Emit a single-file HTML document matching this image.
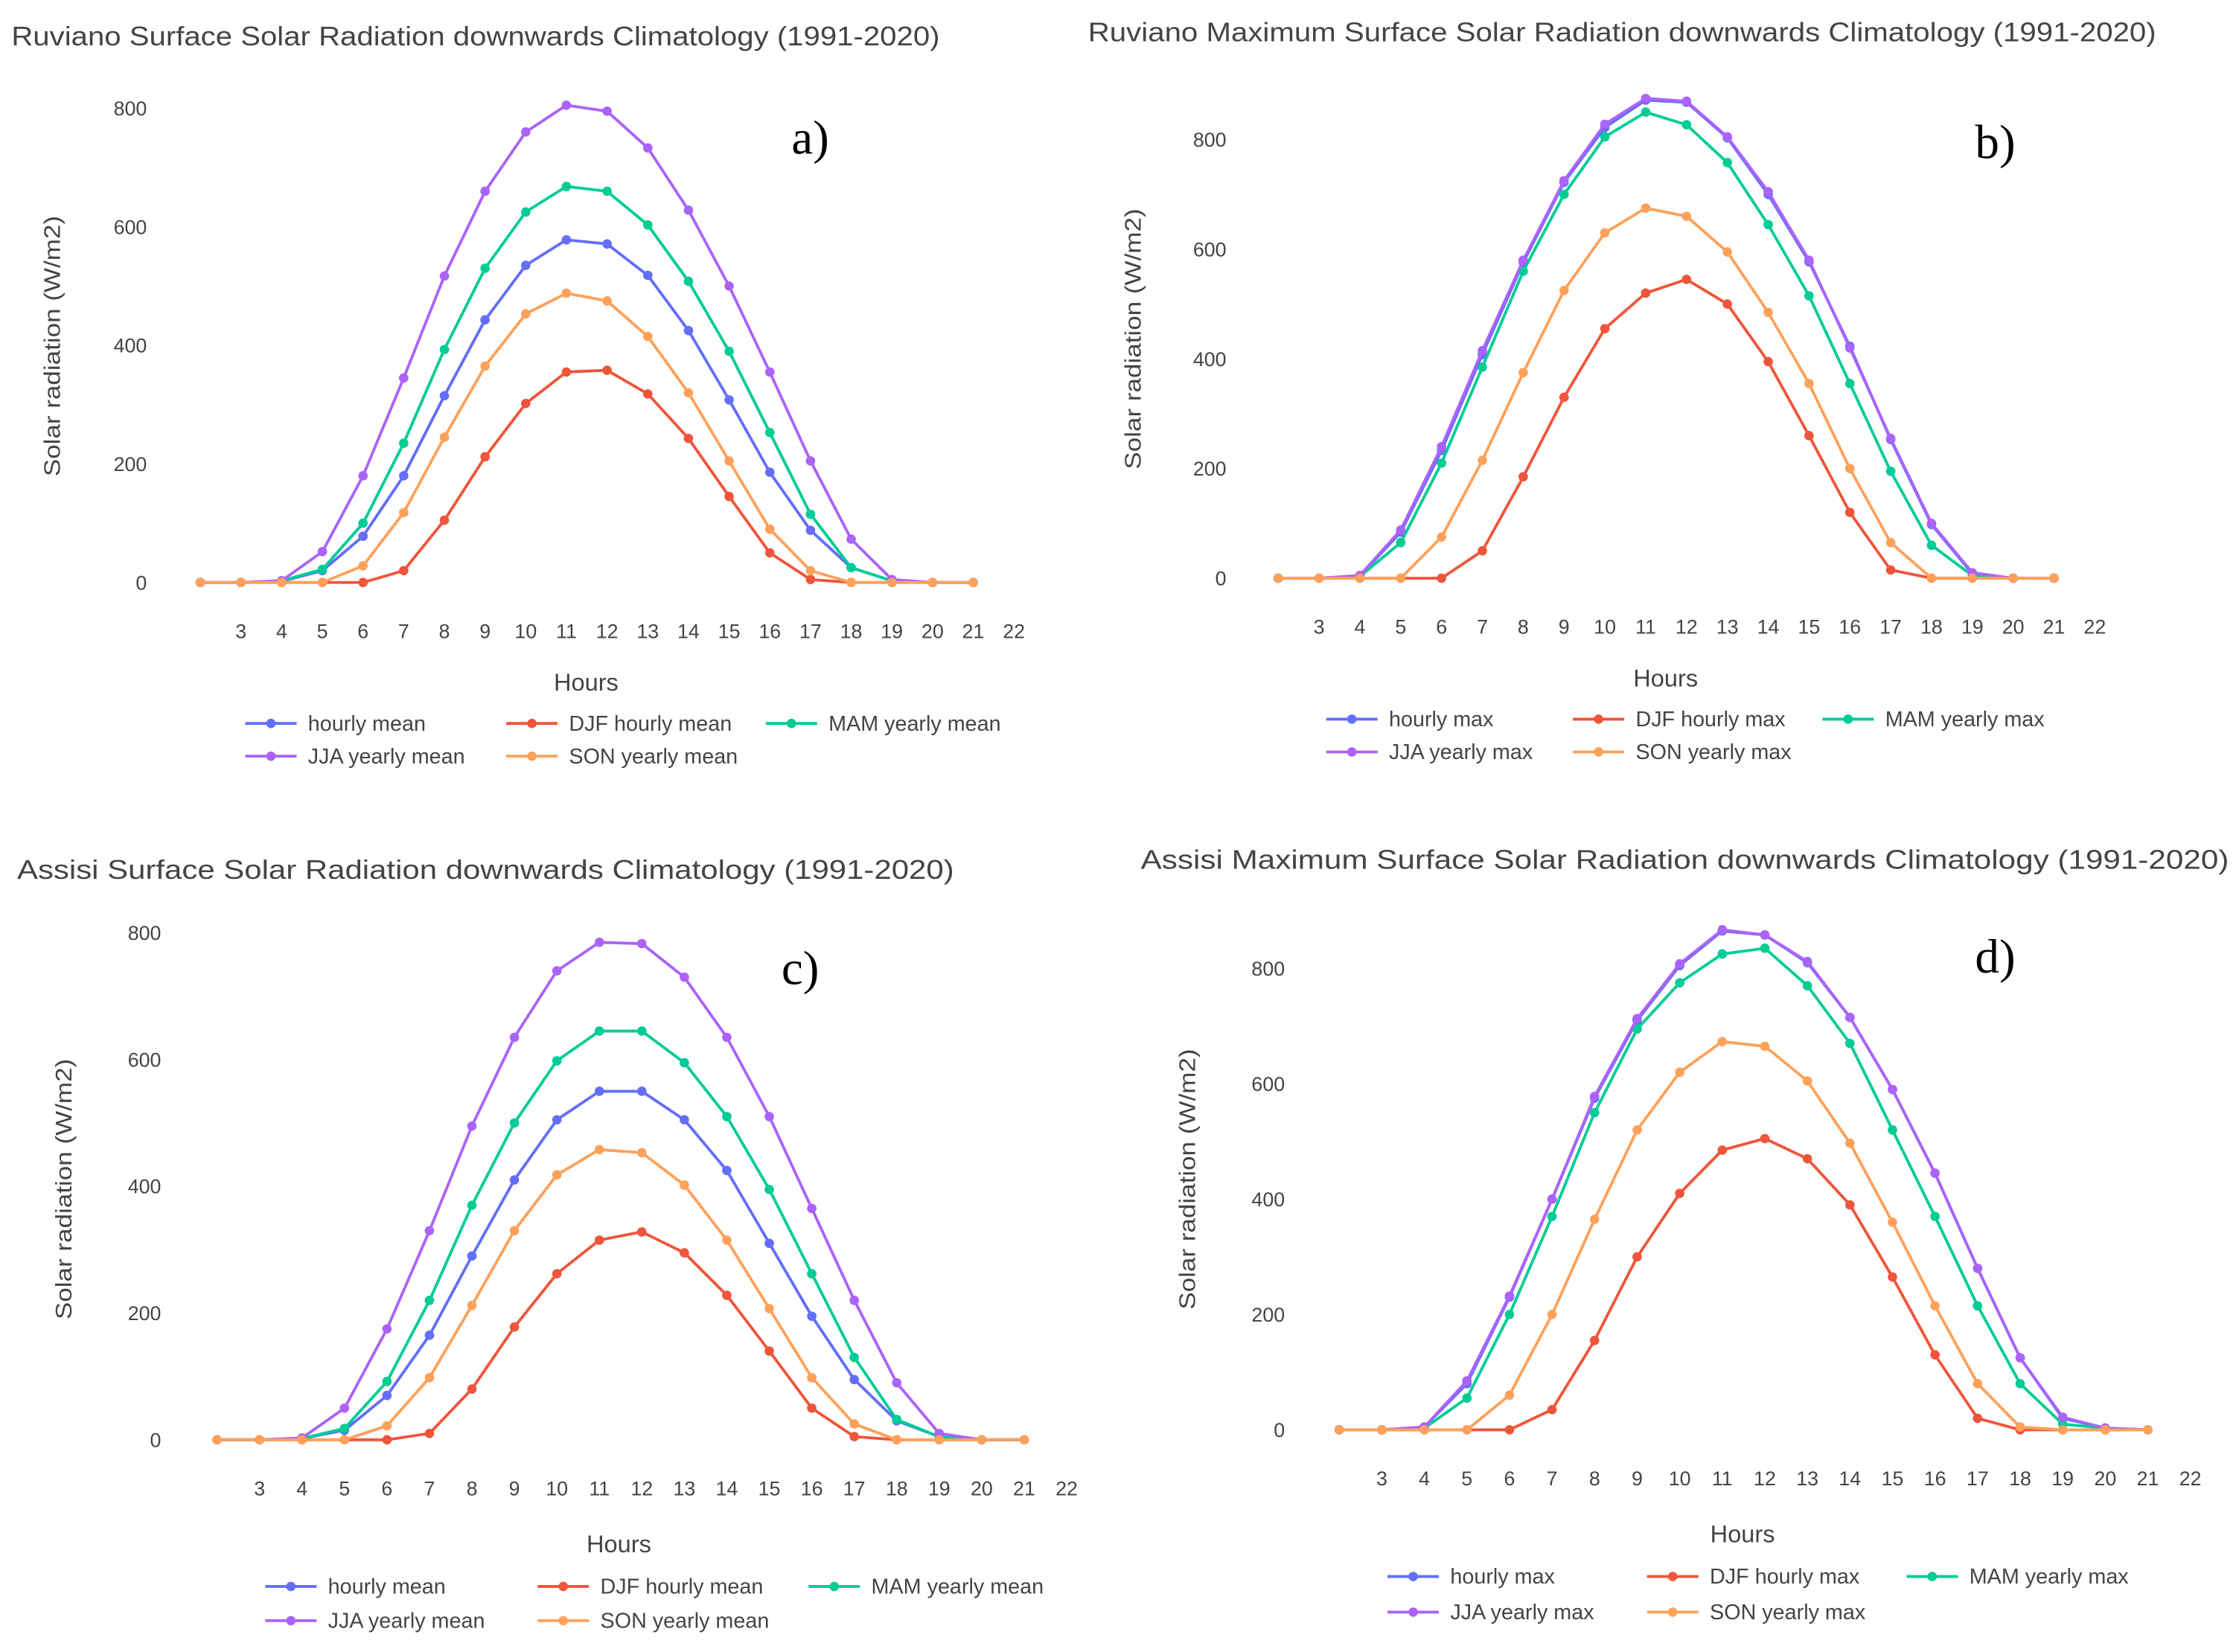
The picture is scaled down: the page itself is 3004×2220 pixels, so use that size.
<!DOCTYPE html>
<html><head><meta charset="utf-8">
<style>
html,body{margin:0;padding:0;background:#fff;}
svg{display:block;font-family:"Liberation Sans","DejaVu Sans",sans-serif;}
</style></head>
<body>
<svg id="chart" width="3004" height="2220" viewBox="0 0 1568 1160" preserveAspectRatio="none" xmlns="http://www.w3.org/2000/svg"></svg>
<script>
const hours = [2,3,4,5,6,7,8,9,10,11,12,13,14,15,16,17,18,19,20,21];
const tickHours = [3,4,5,6,7,8,9,10,11,12,13,14,15,16,17,18,19,20,21,22];
const yTicks = [0,200,400,600,800];
const seriesColors = ["#636efa","#EF553B","#00cc96","#ab63fa","#FFA15A"];
// Panel a
const aHourly = [0,0,2,20,78,180,315,443,535,578,571,518,425,308,186,88,25,3,0,0];
const aDJF = [0,0,0,0,0,20,105,212,302,355,358,318,243,145,50,5,0,0,0,0];
const aMAM = [0,0,3,22,100,235,393,530,625,668,660,603,508,390,253,115,25,3,0,0];
const aJJA = [0,0,3,52,180,345,517,660,760,805,795,733,628,500,355,205,73,5,0,0];
const aSON = [0,0,0,0,28,118,245,365,453,488,475,415,320,205,90,20,0,0,0,0];
// Panel b
const bHourly = [0,0,4,84,233,408,576,722,822,872,868,803,700,577,423,253,98,8,0,0];
const bDJF = [0,0,0,0,0,50,185,330,455,520,545,500,395,260,120,15,0,0,0,0];
const bMAM = [0,0,3,65,210,385,560,700,805,850,827,758,645,515,355,195,60,5,0,0];
const bJJA = [0,0,5,88,240,415,580,725,828,875,870,805,705,580,420,255,100,10,0,0];
const bSON = [0,0,0,0,75,215,375,525,630,675,660,595,485,355,200,65,0,0,0,0];
// Panel c
const cHourly = [0,0,2,15,70,165,290,410,505,550,550,505,425,310,195,95,30,5,0,0];
const cDJF = [0,0,0,0,0,10,80,178,262,315,328,295,228,140,50,5,0,0,0,0];
const cMAM = [0,0,2,18,92,220,370,500,598,645,645,595,510,395,262,130,32,5,0,0];
const cJJA = [0,0,3,50,175,330,495,635,740,785,783,730,635,510,365,220,90,10,0,0];
const cSON = [0,0,0,0,22,98,212,330,418,458,453,402,315,207,98,25,0,0,0,0];
// Panel d
const dHourly = [0,0,5,80,230,400,575,710,805,865,858,810,715,590,445,280,125,20,3,0];
const dDJF = [0,0,0,0,0,35,155,300,410,485,505,470,390,265,130,20,0,0,0,0];
const dMAM = [0,0,3,55,200,370,550,695,775,825,835,770,670,520,370,215,80,10,3,0];
const dJJA = [0,0,5,85,232,400,578,713,808,867,858,812,715,590,445,280,125,22,3,0];
const dSON = [0,0,0,0,60,200,365,520,620,673,665,605,497,360,215,80,5,0,0,0];
const meanNames = ["hourly mean","DJF hourly mean","MAM yearly mean","JJA yearly mean","SON yearly mean"];
const maxNames = ["hourly max","DJF hourly max","MAM yearly max","JJA yearly max","SON yearly max"];

const NS="http://www.w3.org/2000/svg";
const root=document.getElementById('chart');
function mk(tag,attrs,parent){const e=document.createElementNS(NS,tag);for(const k in attrs)e.setAttribute(k,attrs[k]);(parent||root).appendChild(e);return e;}
function txt(s,attrs,parent){const e=mk('text',attrs,parent);e.textContent=s;return e;}

const panels=[
 {id:'a',title:'Ruviano Surface Solar Radiation downwards Climatology (1991-2020)',tx:8,ty:32,tw:651,x3:169,x22:711,y0:409,y800:76,tickX:103,atx:42,aty:243,hy:485,hx:411,leg:[508,531],legX:[172,355,537],lab:[555,108],names:meanNames,data:[aHourly,aDJF,aMAM,aJJA,aSON]},
 {id:'b',title:'Ruviano Maximum Surface Solar Radiation downwards Climatology (1991-2020)',tx:763,ty:29,tw:749,x3:925,x22:1469,y0:406,y800:98,tickX:860,atx:800,aty:238,hy:482,hx:1168,leg:[505,528],legX:[930,1103,1278],lab:[1385,111],names:maxNames,data:[bHourly,bDJF,bMAM,bJJA,bSON]},
 {id:'c',title:'Assisi Surface Solar Radiation downwards Climatology (1991-2020)',tx:12,ty:617,tw:657,x3:182,x22:748,y0:1011,y800:655,tickX:113,atx:50,aty:835,hy:1090,hx:434,leg:[1114,1138],legX:[186,377,567],lab:[548,691],names:meanNames,data:[cHourly,cDJF,cMAM,cJJA,cSON]},
 {id:'d',title:'Assisi Maximum Surface Solar Radiation downwards Climatology (1991-2020)',tx:800,ty:610,tw:763,x3:969,x22:1536,y0:1004,y800:680,tickX:901,atx:838,aty:828,hy:1083,hx:1222,leg:[1107,1132],legX:[973,1155,1337],lab:[1385,683],names:maxNames,data:[dHourly,dDJF,dMAM,dJJA,dSON]}
];

panels.forEach(p=>{
 const g=mk('g',{});
 
 
 const xs=h=>p.x3+(h-3)*(p.x22-p.x3)/19;
 const ys=v=>p.y0+(v/800)*(p.y800-p.y0);
 const t=txt(p.title,{x:p.tx,y:p.ty,'font-size':19,fill:'#444',textLength:p.tw,lengthAdjust:'spacingAndGlyphs'},g);
 
 
 yTicks.forEach(v=>{
  const e=txt(String(v),{x:p.tickX,y:ys(v)+5,'font-size':14,fill:'#444','text-anchor':'end'},g);
  
  
 });
 tickHours.forEach(h=>{
  const e=txt(String(h),{x:xs(h),y:p.y0+39,'font-size':14,fill:'#444','text-anchor':'middle'},g);
  
  
 });
 const yt=txt('Solar radiation (W/m2)',{x:p.atx,y:p.aty,'font-size':16,fill:'#444','text-anchor':'middle',textLength:183,lengthAdjust:'spacingAndGlyphs',transform:`rotate(-90 ${p.atx} ${p.aty})`},g);
 
 
 const xt=txt('Hours',{x:p.hx,y:p.hy,'font-size':17,fill:'#444','text-anchor':'middle'},g);
 
 
 const lb=txt(p.id+')',{x:p.lab[0],y:p.lab[1],'font-size':34,fill:'#000','font-family':'Liberation Serif, serif'},g);
 
 
 p.data.forEach((arr,si)=>{
  const col=seriesColors[si];
  const pts=arr.map((v,i)=>xs(hours[i]).toFixed(1)+','+ys(v).toFixed(1)).join(' ');
  const pl=mk('polyline',{points:pts,fill:'none',stroke:col,'stroke-width':2},g);
  
  
  arr.forEach((v,i)=>{
   const c=mk('circle',{cx:xs(hours[i]),cy:ys(v),r:3.3,fill:col},g);
   
   
  });
 });
 p.names.forEach((n,si)=>{
  const row=si<3?0:1, colI=si<3?si:si-3;
  const lx=p.legX[colI], ly=p.leg[row];
  const lg=mk('g',{},g);
  
  
  mk('line',{x1:lx,y1:ly,x2:lx+36,y2:ly,stroke:seriesColors[si],'stroke-width':2},lg);
  mk('circle',{cx:lx+18,cy:ly,r:3.3,fill:seriesColors[si]},lg);
  txt(n,{x:lx+44,y:ly+5,'font-size':15,fill:'#444'},lg);
 });
});
</script>
</body></html>
